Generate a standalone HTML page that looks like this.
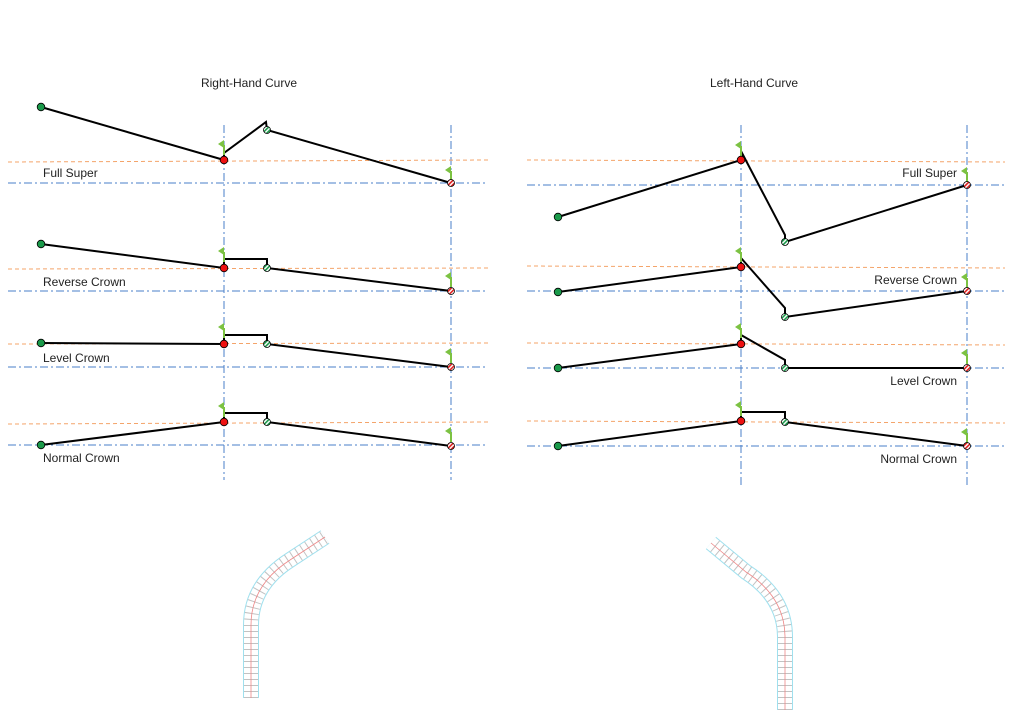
<!DOCTYPE html>
<html><head><style>body{margin:0;background:#fff}svg{display:block}text{font-family:"Liberation Sans",sans-serif;font-size:12px;fill:#222}</style></head>
<body>
<svg width="1024" height="720" viewBox="0 0 1024 720" xmlns="http://www.w3.org/2000/svg">
<defs>
<pattern id="hg" width="3" height="3" patternUnits="userSpaceOnUse" patternTransform="rotate(45)"><rect width="3" height="3" fill="#fff"/><rect width="1.6" height="3" fill="#1a9a4a"/></pattern>
<pattern id="hr" width="3" height="3" patternUnits="userSpaceOnUse" patternTransform="rotate(45)"><rect width="3" height="3" fill="#fff"/><rect width="1.6" height="3" fill="#e02020"/></pattern>
<g id="flag"><line x1="0" y1="0" x2="0" y2="10" stroke="#7cc242" stroke-width="2"/><polygon points="0,-5 0,3 -6,-1" fill="#7cc242"/></g>
</defs>
<text x="249" y="87" text-anchor="middle">Right-Hand Curve</text>
<text x="754" y="87" text-anchor="middle">Left-Hand Curve</text>
<g stroke="#4a7fc8" stroke-width="1" stroke-dasharray="8,3,2,3" fill="none">
<line x1="224" y1="125" x2="224" y2="480"/><line x1="451" y1="125" x2="451" y2="480"/>
<line x1="741" y1="125" x2="741" y2="488"/><line x1="967" y1="125" x2="967" y2="488"/>
<line x1="8" y1="183" x2="488" y2="183"/><line x1="8" y1="291" x2="488" y2="291"/><line x1="8" y1="367" x2="488" y2="367"/><line x1="8" y1="445" x2="488" y2="445"/>
<line x1="527" y1="185" x2="1005" y2="185"/><line x1="527" y1="291" x2="1005" y2="291"/><line x1="527" y1="368" x2="1005" y2="368"/><line x1="527" y1="446" x2="1005" y2="446"/>
</g>
<g stroke="#f4a46a" stroke-width="1" stroke-dasharray="4,3" fill="none">
<line x1="8" y1="162" x2="488" y2="160"/><line x1="8" y1="269" x2="488" y2="268"/><line x1="8" y1="344" x2="488" y2="343"/><line x1="8" y1="424" x2="488" y2="422"/>
<line x1="527" y1="160" x2="1005" y2="162"/><line x1="527" y1="266" x2="1005" y2="268"/><line x1="527" y1="343" x2="1005" y2="345"/><line x1="527" y1="421" x2="1005" y2="423"/>
</g>
<g stroke="#000" stroke-width="2" fill="none">
<polyline points="41,107 224,160 224,153 266,122 267,130 451,183"/>
<polyline points="41,244 224,268 224,259 267,259 267,268 451,291"/>
<polyline points="41,343 224,344 224,335 267,335 267,344 451,367"/>
<polyline points="41,445 224,422 224,413 267,413 267,422 451,446"/>
<polyline points="558,217 741,160 742,153 785,235 785,242 967,185"/>
<polyline points="558,292 741,267 741,258 785,308 785,317 967,291"/>
<polyline points="558,368 741,344 741,335 785,360 785,368 967,368"/>
<polyline points="558,446 741,421 741,412 785,412 785,422 967,446"/>
</g>
<g>
<use href="#flag" x="224" y="145"/><use href="#flag" x="451" y="171"/>
<use href="#flag" x="224" y="252"/><use href="#flag" x="451" y="277"/>
<use href="#flag" x="224" y="328"/><use href="#flag" x="451" y="353"/>
<use href="#flag" x="224" y="407"/><use href="#flag" x="451" y="432"/>
<use href="#flag" x="741" y="146"/><use href="#flag" x="967" y="172"/>
<use href="#flag" x="741" y="252"/><use href="#flag" x="967" y="278"/>
<use href="#flag" x="741" y="328"/><use href="#flag" x="967" y="354"/>
<use href="#flag" x="741" y="406"/><use href="#flag" x="967" y="433"/>
</g>
<g stroke="#000" stroke-width="0.8">
<circle cx="41" cy="107" r="3.8" fill="#1a9a4a"/><circle cx="41" cy="244" r="3.8" fill="#1a9a4a"/><circle cx="41" cy="343" r="3.8" fill="#1a9a4a"/><circle cx="41" cy="445" r="3.8" fill="#1a9a4a"/>
<circle cx="558" cy="217" r="3.8" fill="#1a9a4a"/><circle cx="558" cy="292" r="3.8" fill="#1a9a4a"/><circle cx="558" cy="368" r="3.8" fill="#1a9a4a"/><circle cx="558" cy="446" r="3.8" fill="#1a9a4a"/>
<circle cx="224" cy="160" r="3.8" fill="#ee1111"/><circle cx="224" cy="268" r="3.8" fill="#ee1111"/><circle cx="224" cy="344" r="3.8" fill="#ee1111"/><circle cx="224" cy="422" r="3.8" fill="#ee1111"/>
<circle cx="741" cy="160" r="3.8" fill="#ee1111"/><circle cx="741" cy="267" r="3.8" fill="#ee1111"/><circle cx="741" cy="344" r="3.8" fill="#ee1111"/><circle cx="741" cy="421" r="3.8" fill="#ee1111"/>
<circle cx="267" cy="130" r="3.5" fill="url(#hg)"/><circle cx="267" cy="268" r="3.5" fill="url(#hg)"/><circle cx="267" cy="344" r="3.5" fill="url(#hg)"/><circle cx="267" cy="422" r="3.5" fill="url(#hg)"/>
<circle cx="785" cy="242" r="3.5" fill="url(#hg)"/><circle cx="785" cy="317" r="3.5" fill="url(#hg)"/><circle cx="785" cy="368" r="3.5" fill="url(#hg)"/><circle cx="785" cy="422" r="3.5" fill="url(#hg)"/>
<circle cx="451" cy="183" r="3.5" fill="url(#hr)"/><circle cx="451" cy="291" r="3.5" fill="url(#hr)"/><circle cx="451" cy="367" r="3.5" fill="url(#hr)"/><circle cx="451" cy="446" r="3.5" fill="url(#hr)"/>
<circle cx="967" cy="185" r="3.5" fill="url(#hr)"/><circle cx="967" cy="291" r="3.5" fill="url(#hr)"/><circle cx="967" cy="368" r="3.5" fill="url(#hr)"/><circle cx="967" cy="446" r="3.5" fill="url(#hr)"/>
</g>
<text x="43" y="177">Full Super</text>
<text x="43" y="286">Reverse Crown</text>
<text x="43" y="362">Level Crown</text>
<text x="43" y="462">Normal Crown</text>
<text x="957" y="177" text-anchor="end">Full Super</text>
<text x="957" y="284" text-anchor="end">Reverse Crown</text>
<text x="957" y="385" text-anchor="end">Level Crown</text>
<text x="957" y="463" text-anchor="end">Normal Crown</text>
<!-- road plans -->
<g fill="none">
<path d="M251,698 L251,625 Q251,585 290,560 L325,537" stroke="#9fe0ee" stroke-width="16"/>
<path d="M251,698 L251,625 Q251,585 290,560 L325,537" stroke="#fff" stroke-width="14"/>
<path d="M251,698 L251,625 Q251,585 290,560 L325,537" stroke="#999" stroke-width="14" stroke-dasharray="1,5" opacity="0.6"/>
<path d="M251,698 L251,625 Q251,585 290,560 L325,537" stroke="#e88" stroke-width="0.8"/>
<path d="M785,710 L785,637 Q785,597 746,572 L711,543" stroke="#9fe0ee" stroke-width="16"/>
<path d="M785,710 L785,637 Q785,597 746,572 L711,543" stroke="#fff" stroke-width="14"/>
<path d="M785,710 L785,637 Q785,597 746,572 L711,543" stroke="#999" stroke-width="14" stroke-dasharray="1,5" opacity="0.6"/>
<path d="M785,710 L785,637 Q785,597 746,572 L711,543" stroke="#e88" stroke-width="0.8"/>
</g>
</svg>
</body></html>
